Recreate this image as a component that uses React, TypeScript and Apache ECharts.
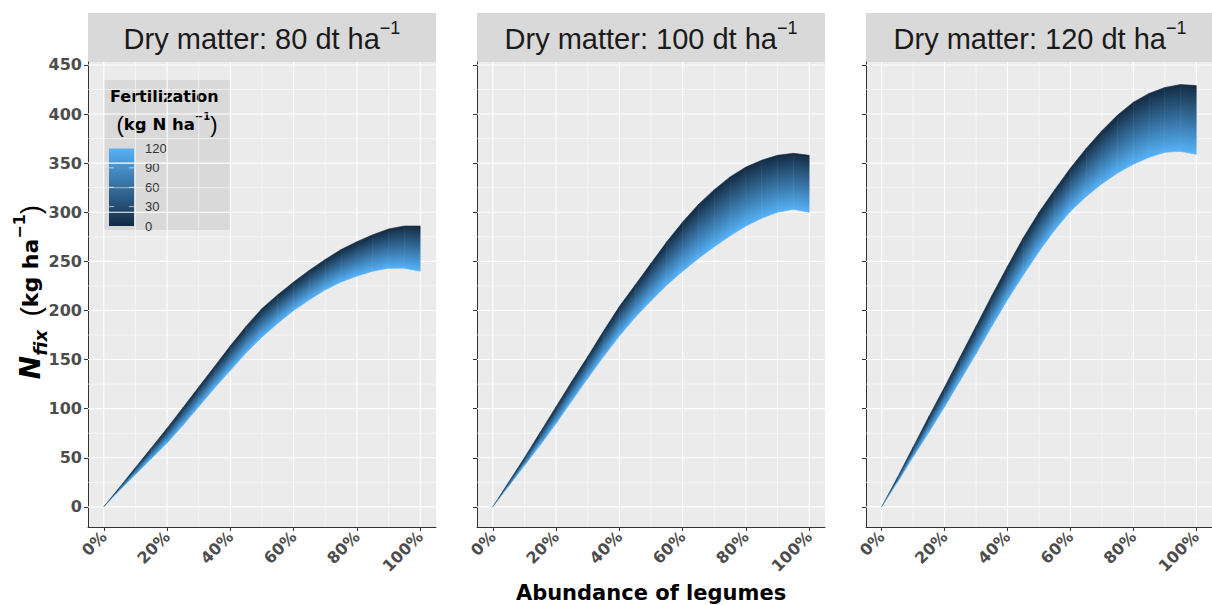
import React, { useEffect, useRef } from "react";
import * as echarts from "echarts";

// ---------- data ----------
const abundance = [0, 5, 10, 15, 20, 25, 30, 35, 40, 45, 50, 55, 60, 65, 70, 75, 80, 85, 90, 95, 100];
const dryMatter = ["80", "100", "120"];
// fertilization 0 kg N/ha (upper edge of band)
const top80 = [0, 20, 40, 60, 80, 101, 122, 143, 164, 184, 202, 216, 229, 241, 252, 262, 270, 277, 283, 286, 286];
const top100 = [0, 25, 50, 76, 102, 128, 153, 179, 204, 226, 248, 270, 290, 308, 323, 336, 346, 353, 358, 360, 358];
const top120 = [0, 30, 61, 92, 122, 153, 184, 215, 245, 274, 300, 323, 345, 365, 383, 399, 412, 421, 427, 430, 429];
// fertilization 120 kg N/ha (lower edge of band)
const bottom80 = [0, 17, 33, 49, 65, 83, 102, 121, 139, 157, 173, 187, 200, 211, 221, 229, 235, 240, 243, 243, 240];
const bottom100 = [0, 21, 42, 63, 85, 108, 131, 153, 174, 193, 210, 226, 240, 253, 265, 276, 286, 294, 300, 303, 300];
const bottom120 = [0, 25, 51, 76, 102, 129, 156, 184, 211, 236, 260, 282, 301, 316, 329, 340, 349, 356, 361, 362, 359];
const fertLegendTicks = [0, 30, 60, 90, 120];
const fertMax = 120;
const yTicks = [0, 50, 100, 150, 200, 250, 300, 350, 400, 450];
const yMinorTicks = [25, 75, 125, 175, 225, 275, 325, 375, 425];
const xTicks = [0, 20, 40, 60, 80, 100];
const xMinorTicks = [10, 30, 50, 70, 90];

const tops = [top80, top100, top120];
const bottoms = [bottom80, bottom100, bottom120];

// ---------- style / layout ----------
const DARK = [0x13, 0x2b, 0x43];
const LIGHT = [0x56, 0xb1, 0xf7];
const colorAt = (f: number) => {
  const c = DARK.map((d, i) => Math.round(d + (LIGHT[i] - d) * f));
  return `rgb(${c[0]},${c[1]},${c[2]})`;
};
const gradStops = [0, 0.25, 0.5, 0.75, 1].map((o) => ({ offset: o, color: colorAt(o) }));
const PANEL_LEFT = [88, 477, 866];
const PANEL_W = 348;
const PANEL_TOP = 62;
const PANEL_H = 465;
const STRIP_TOP = 13;
const BOLD_FONT = "DejaVu Sans";
const SANS = "Liberation Sans";

export default function App() {
  const ref = useRef<HTMLDivElement>(null);
  useEffect(() => {
    document.body.style.margin = "0";
    if (!ref.current) return;
    const chart = echarts.init(ref.current, null, { renderer: "svg" });

    const grids = PANEL_LEFT.map((left) => ({
      left,
      top: PANEL_TOP,
      width: PANEL_W,
      height: PANEL_H,
      show: true,
      backgroundColor: "#EBEBEB",
      borderWidth: 0,
      containLabel: false,
    }));

    const xAxes = PANEL_LEFT.map((_, gi) => ({
      type: "value",
      gridIndex: gi,
      min: -5,
      max: 105,
      axisLine: { show: true, onZero: false, lineStyle: { color: "#333333", width: 1 } },
      axisTick: { show: true, customValues: xTicks, length: 4, lineStyle: { color: "#333333" } },
      axisLabel: {
        show: true,
        customValues: xTicks,
        formatter: (v: number) => `${v}%`,
        rotate: 45,
        margin: 7,
        fontSize: 16,
        fontWeight: "bold",
        fontFamily: BOLD_FONT,
        color: "#4D4D4D",
      },
      splitLine: { show: false },
    }));

    const yAxes = PANEL_LEFT.map((_, gi) => ({
      type: "value",
      gridIndex: gi,
      min: -20.5,
      max: 453,
      axisLine: { show: true, onZero: false, lineStyle: { color: "#333333", width: 1 } },
      axisTick: { show: true, customValues: yTicks, length: 4, lineStyle: { color: "#333333" } },
      axisLabel: {
        show: gi === 0,
        customValues: yTicks,
        margin: 6,
        fontSize: 16,
        fontWeight: "bold",
        fontFamily: BOLD_FONT,
        color: "#4D4D4D",
      },
      splitLine: { show: false },
    }));

    const gridLineData = [
      ...yTicks.map((v) => [0, v]),
      ...yMinorTicks.map((v) => [1, v]),
      ...xTicks.map((v) => [2, v]),
      ...xMinorTicks.map((v) => [3, v]),
    ];

    const gridSeries = PANEL_LEFT.map((_, gi) => ({
      type: "custom",
      xAxisIndex: gi,
      yAxisIndex: gi,
      z: 1,
      silent: true,
      data: gridLineData,
      renderItem: (params: any, api: any) => {
        const cs = params.coordSys;
        const kind = api.value(0);
        const v = api.value(1);
        const major = kind === 0 || kind === 2;
        const style = { stroke: "#FFFFFF", lineWidth: major ? 1.1 : 0.55 };
        if (kind < 2) {
          const y = api.coord([0, v])[1];
          return { type: "line", shape: { x1: cs.x, y1: y, x2: cs.x + cs.width, y2: y }, style };
        }
        const x = api.coord([v, 0])[0];
        return { type: "line", shape: { x1: x, y1: cs.y, x2: x, y2: cs.y + cs.height }, style };
      },
    }));

    const bandSeries = PANEL_LEFT.map((_, gi) => {
      const top = tops[gi];
      const bottom = bottoms[gi];
      return {
        type: "custom",
        xAxisIndex: gi,
        yAxisIndex: gi,
        z: 3,
        silent: true,
        data: abundance.slice(0, -1).map((x, i) => [x, top[i], bottom[i], abundance[i + 1], top[i + 1], bottom[i + 1]]),
        encode: { x: [0, 3], y: [1, 2, 4, 5] },
        renderItem: (params: any, api: any) => {
          const x0 = api.value(0), t0 = api.value(1), b0 = api.value(2);
          const x1 = api.value(3), t1 = api.value(4), b1 = api.value(5);
          const T0 = api.coord([x0, t0]);
          const T1 = api.coord([x1, t1]);
          const B0 = api.coord([x0, b0]);
          const B1 = api.coord([x1, b1]);
          let dx = T1[0] - T0[0] + (B1[0] - B0[0]);
          let dy = T1[1] - T0[1] + (B1[1] - B0[1]);
          const len = Math.hypot(dx, dy) || 1;
          dx /= len;
          dy /= len;
          let nx = -dy;
          let ny = dx;
          const Tm = [(T0[0] + T1[0]) / 2, (T0[1] + T1[1]) / 2];
          const Bm = [(B0[0] + B1[0]) / 2, (B0[1] + B1[1]) / 2];
          let L = (Bm[0] - Tm[0]) * nx + (Bm[1] - Tm[1]) * ny;
          if (L < 0) {
            nx = -nx;
            ny = -ny;
            L = -L;
          }
          if (L < 0.5) L = 0.5;
          const grad = new echarts.graphic.LinearGradient(Tm[0], Tm[1], Tm[0] + nx * L, Tm[1] + ny * L, gradStops, true);
          return {
            type: "polygon",
            shape: { points: [T0, T1, B1, B0] },
            style: { fill: grad, stroke: grad, lineWidth: 0.6 },
          };
        },
      };
    });

    // ----- graphic: strips, titles, legend -----
    const graphics: any[] = [];
    PANEL_LEFT.forEach((left, gi) => {
      graphics.push({
        type: "rect",
        shape: { x: left, y: STRIP_TOP, width: PANEL_W, height: PANEL_TOP - STRIP_TOP },
        style: { fill: "#D9D9D9" },
        silent: true,
      });
      graphics.push({
        type: "text",
        x: left + PANEL_W / 2,
        y: (STRIP_TOP + PANEL_TOP) / 2 + 1,
        silent: true,
        style: {
          text: `{m|Dry matter: ${dryMatter[gi]} dt ha}{s|−1}`,
          align: "center",
          verticalAlign: "middle",
          rich: {
            m: { fontSize: 29, fontFamily: SANS, fill: "#1A1A1A", lineHeight: 40 },
            s: { fontSize: 18, fontFamily: SANS, fill: "#1A1A1A", verticalAlign: "top" },
          },
        },
      });
    });

    // y-axis title
    graphics.push({
      type: "text",
      x: 30,
      y: 292,
      rotation: Math.PI / 2,
      silent: true,
      style: {
        text: "{n|N}{sub|fix}{sp|   }{p|(}{t|kg ha}{sup|−1}{p|)}",
        align: "center",
        verticalAlign: "middle",
        rich: {
          n: { fontSize: 28, fontWeight: "bold", fontStyle: "italic", fontFamily: BOLD_FONT, fill: "#000", lineHeight: 38 },
          sub: { fontSize: 18, fontWeight: "bold", fontStyle: "italic", fontFamily: BOLD_FONT, fill: "#000", verticalAlign: "bottom" },
          sp: { fontSize: 14, fontFamily: BOLD_FONT },
          p: { fontSize: 28, fontFamily: SANS, fill: "#000" },
          t: { fontSize: 22, fontWeight: "bold", fontFamily: BOLD_FONT, fill: "#000" },
          sup: { fontSize: 16, fontWeight: "bold", fontFamily: BOLD_FONT, fill: "#000", verticalAlign: "top" },
        },
      },
    });

    // x-axis title
    graphics.push({
      type: "text",
      x: (PANEL_LEFT[0] + PANEL_LEFT[2] + PANEL_W) / 2,
      y: 593,
      silent: true,
      style: {
        text: "Abundance of legumes",
        align: "center",
        verticalAlign: "middle",
        fontSize: 21,
        fontWeight: "bold",
        fontFamily: BOLD_FONT,
        fill: "#000",
      },
    });

    // legend
    const LX = 104, LY = 80, LW = 126, LH = 150;
    const barX = 109, barW = 25, barTop = 148.5, barBottom = 226;
    graphics.push({ type: "rect", shape: { x: LX, y: LY, width: LW, height: LH }, style: { fill: "#D9D9D9" }, silent: true });
    graphics.push({
      type: "text",
      x: 110,
      y: 96,
      silent: true,
      style: { text: "Fertilization", align: "left", verticalAlign: "middle", fontSize: 16, fontWeight: "bold", fontFamily: BOLD_FONT, fill: "#000" },
    });
    graphics.push({
      type: "text",
      x: 167,
      y: 124,
      silent: true,
      style: {
        text: "{p|(}{t|kg N ha}{s|−1}{p|)}",
        align: "center",
        verticalAlign: "middle",
        rich: {
          p: { fontSize: 22, fontFamily: SANS, fill: "#000", lineHeight: 26 },
          t: { fontSize: 16.5, fontWeight: "bold", fontFamily: BOLD_FONT, fill: "#000" },
          s: { fontSize: 10, fontWeight: "bold", fontFamily: BOLD_FONT, fill: "#000", verticalAlign: "top" },
        },
      },
    });
    graphics.push({
      type: "rect",
      shape: { x: barX, y: barTop, width: barW, height: barBottom - barTop },
      silent: true,
      style: {
        fill: new echarts.graphic.LinearGradient(0, 0, 0, 1, [
          { offset: 0, color: colorAt(1) },
          { offset: 0.5, color: colorAt(0.5) },
          { offset: 1, color: colorAt(0) },
        ]),
      },
    });
    fertLegendTicks.forEach((v) => {
      const y = barBottom - (v / fertMax) * (barBottom - barTop);
      if (v > 0 && v < fertMax) {
        graphics.push({ type: "line", silent: true, shape: { x1: barX, y1: y, x2: barX + 5, y2: y }, style: { stroke: "#FFFFFF", lineWidth: 0.8, opacity: 0.8 } });
        graphics.push({ type: "line", silent: true, shape: { x1: barX + barW - 5, y1: y, x2: barX + barW, y2: y }, style: { stroke: "#FFFFFF", lineWidth: 0.8, opacity: 0.8 } });
      }
      graphics.push({
        type: "text",
        x: 145,
        y,
        silent: true,
        style: { text: String(v), align: "left", verticalAlign: "middle", fontSize: 13, fontFamily: SANS, fill: "#333333" },
      });
    });

    chart.setOption({
      animation: false,
      backgroundColor: "#FFFFFF",
      grid: grids,
      xAxis: xAxes,
      yAxis: yAxes,
      series: [...gridSeries, ...bandSeries],
      graphic: { elements: graphics },
    });

    return () => chart.dispose();
  }, []);

  return <div ref={ref} style={{ width: 1212, height: 605 }} />;
}
